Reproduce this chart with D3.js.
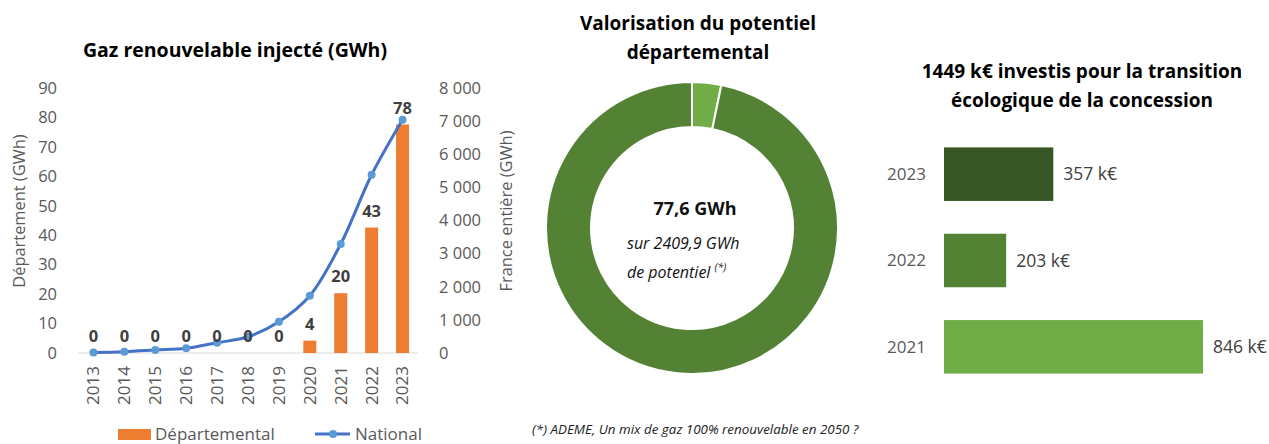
<!DOCTYPE html>
<html>
<head>
<meta charset="utf-8">
<script src="https://d3js.org/d3.v7.min.js"></script>
<style>
  body { margin: 0; background: #fff; }
  svg { display: block; font-family: "Open Sans", Lato, sans-serif; }
</style>
</head>
<body>
<script>
    // data
    var years = ["2013","2014","2015","2016","2017","2018","2019","2020","2021","2022","2023"];
    var departemental = [0, 0, 0, 0, 0, 0, 0, 4.2, 20.3, 42.6, 77.6];
    var national = [15, 40, 90, 140, 310, 490, 945, 1730, 3290, 5380, 7040];
    var leftTicks = [0,10,20,30,40,50,60,70,80,90];
    var rightTicks = [0,1000,2000,3000,4000,5000,6000,7000,8000];

    var potentielLabels = ["Valorisé", "Reste"];
    var potentielValues = [77.6, 2332.3];

    var invYears = ["2023", "2022", "2021"];
    var invValues = [357, 203, 846];
    var invColors = ["#375623", "#548235", "#70AD47"];

    var svg = d3.select("body").append("svg")
        .attr("width", 1269)
        .attr("height", 444);

    var grey = "#595959", dark = "#404040";
    var titleSize = "19px";

    // ---------- left chart : gaz injecte ----------
    var g1 = svg.append("g");

    g1.append("text")
        .attr("x", 235).attr("y", 57)
        .attr("text-anchor", "middle")
        .style("font-weight", "bold").style("font-size", "19.5px")
        .text("Gaz renouvelable injecté (GWh)");

    var x = d3.scaleBand().domain(years).range([78, 418]);
    var yL = d3.scaleLinear().domain([0, 90]).range([353, 88]);
    var yR = d3.scaleLinear().domain([0, 8000]).range([353, 88]);

    // left ticks
    g1.selectAll(".ltick").data(leftTicks).enter().append("text")
        .attr("class", "ltick")
        .attr("x", 57).attr("y", function(d){ return yL(d); })
        .attr("dy", "0.35em")
        .attr("text-anchor", "end")
        .style("font-size", "16.5px").style("fill", grey)
        .text(function(d){ return d; });

    // right ticks
    var fmtR = function(d){ return d3.format(",")(d).replace(",", "\u00a0"); };
    g1.selectAll(".rtick").data(rightTicks).enter().append("text")
        .attr("class", "rtick")
        .attr("x", 439).attr("y", function(d){ return yR(d); })
        .attr("dy", "0.35em")
        .style("font-size", "16.5px").style("fill", grey)
        .text(fmtR);

    // axis titles
    g1.append("text")
        .attr("transform", "translate(25,211) rotate(-90)")
        .attr("text-anchor", "middle")
        .style("font-size", "16.4px").style("fill", grey)
        .text("Département (GWh)");
    g1.append("text")
        .attr("transform", "translate(512,211) rotate(-90)")
        .attr("text-anchor", "middle")
        .style("font-size", "16.4px").style("fill", grey)
        .text("France entière (GWh)");

    // baseline
    g1.append("line")
        .attr("x1", 78).attr("x2", 418)
        .attr("y1", yL(0)).attr("y2", yL(0))
        .attr("stroke", "#D9D9D9").attr("stroke-width", 1);

    // x labels rotated
    g1.selectAll(".xtick").data(years).enter().append("text")
        .attr("class", "xtick")
        .attr("transform", function(d){
            return "translate(" + (x(d) + x.bandwidth()/2) + ",366) rotate(-90)";
        })
        .attr("dy", "0.35em")
        .attr("text-anchor", "end")
        .style("font-size", "17px").style("fill", grey)
        .text(function(d){ return d; });

    // bars
    var bw = x.bandwidth() * 0.42;
    g1.selectAll(".bar").data(departemental).enter().append("rect")
        .attr("class", "bar")
        .attr("x", function(d, i){ return x(years[i]) + (x.bandwidth() - bw)/2; })
        .attr("width", bw)
        .attr("y", function(d){ return yL(d); })
        .attr("height", function(d){ return yL(0) - yL(d); })
        .style("fill", "#ED7D31");

    // national line
    var line = d3.line()
        .x(function(d, i){ return x(years[i]) + x.bandwidth()/2; })
        .y(function(d){ return yR(d); })
        .curve(d3.curveCatmullRom);
    g1.append("path")
        .datum(national)
        .attr("d", line)
        .attr("fill", "none")
        .attr("stroke", "#4472C4").attr("stroke-width", 3);
    g1.selectAll(".dot").data(national).enter().append("circle")
        .attr("class", "dot")
        .attr("cx", function(d, i){ return x(years[i]) + x.bandwidth()/2; })
        .attr("cy", function(d){ return yR(d); })
        .attr("r", 4)
        .style("fill", "#5B9BD5");

    // bar value labels
    g1.selectAll(".blab").data(departemental).enter().append("text")
        .attr("class", "blab")
        .attr("x", function(d, i){ return x(years[i]) + x.bandwidth()/2; })
        .attr("y", function(d){ return yL(d) - 11; })
        .attr("text-anchor", "middle")
        .style("font-size", "16.5px").style("font-weight", "bold").style("fill", dark)
        .text(function(d){ return d3.format(".0f")(d); });

    // legend
    g1.append("rect")
        .attr("x", 118).attr("y", 429).attr("width", 33).attr("height", 11)
        .style("fill", "#ED7D31");
    g1.append("text")
        .attr("x", 155).attr("y", 440)
        .style("font-size", "17px").style("fill", grey)
        .text("Départemental");
    g1.append("line")
        .attr("x1", 315).attr("x2", 350).attr("y1", 434).attr("y2", 434)
        .attr("stroke", "#4472C4").attr("stroke-width", 3);
    g1.append("circle")
        .attr("cx", 333).attr("cy", 434).attr("r", 4)
        .style("fill", "#5B9BD5");
    g1.append("text")
        .attr("x", 355).attr("y", 440)
        .style("font-size", "17px").style("fill", grey)
        .text("National");

    // ---------- middle : donut ----------
    var g2 = svg.append("g");
    g2.append("text")
        .attr("x", 698).attr("y", 30)
        .attr("text-anchor", "middle")
        .style("font-weight", "bold").style("font-size", titleSize)
        .text("Valorisation du potentiel");
    g2.append("text")
        .attr("x", 698).attr("y", 59)
        .attr("text-anchor", "middle")
        .style("font-weight", "bold").style("font-size", titleSize)
        .text("départemental");

    var pie = d3.pie().sort(null);
    var arc = d3.arc().innerRadius(101).outerRadius(146);
    var donut = g2.append("g").attr("transform", "translate(692,228)");
    donut.selectAll("path").data(pie(potentielValues)).enter().append("path")
        .attr("d", arc)
        .style("fill", function(d, i){ return i === 0 ? "#70AD47" : "#548235"; })
        .attr("stroke", "#fff").attr("stroke-width", 2);

    g2.append("text")
        .attr("x", 695).attr("y", 215)
        .attr("text-anchor", "middle")
        .style("font-weight", "bold").style("font-size", "18px").style("fill", "#111")
        .text("77,6 GWh");
    g2.append("text")
        .attr("x", 627).attr("y", 249)
        .style("font-style", "italic").style("font-size", "16px").style("fill", "#111")
        .text("sur 2409,9 GWh");
    var t3 = g2.append("text")
        .attr("x", 627).attr("y", 278)
        .style("font-style", "italic").style("font-size", "16px").style("fill", "#111");
    t3.append("tspan").text("de potentiel ");
    t3.append("tspan").attr("dy", -7).style("font-size", "10.5px").text("(*)");

    g2.append("text")
        .attr("x", 532).attr("y", 434)
        .style("font-style", "italic").style("font-size", "13.4px").style("fill", "#222")
        .text("(*) ADEME, Un mix de gaz 100% renouvelable en 2050 ?");

    // ---------- right : investissements ----------
    var g3 = svg.append("g");
    g3.append("text")
        .attr("x", 1082).attr("y", 78)
        .attr("text-anchor", "middle")
        .style("font-weight", "bold").style("font-size", titleSize)
        .text("1449 k€ investis pour la transition");
    g3.append("text")
        .attr("x", 1082).attr("y", 107)
        .attr("text-anchor", "middle")
        .style("font-weight", "bold").style("font-size", titleSize)
        .text("écologique de la concession");

    var xi = d3.scaleLinear().domain([0, 846]).range([944, 1203]);
    var yi = d3.scaleBand().domain(invYears).range([131, 390])
        .paddingInner(0.38).paddingOuter(0.19);

    g3.selectAll(".ibar").data(invValues).enter().append("rect")
        .attr("class", "ibar")
        .attr("x", xi(0))
        .attr("y", function(d, i){ return yi(invYears[i]); })
        .attr("width", function(d){ return xi(d) - xi(0); })
        .attr("height", yi.bandwidth())
        .style("fill", function(d, i){ return invColors[i]; });

    g3.selectAll(".iyear").data(invYears).enter().append("text")
        .attr("class", "iyear")
        .attr("x", 926)
        .attr("y", function(d){ return yi(d) + yi.bandwidth()/2; })
        .attr("dy", "0.35em")
        .attr("text-anchor", "end")
        .style("font-size", "17px").style("fill", grey)
        .text(function(d){ return d; });

    g3.selectAll(".ival").data(invValues).enter().append("text")
        .attr("class", "ival")
        .attr("x", function(d){ return xi(d) + 10; })
        .attr("y", function(d, i){ return yi(invYears[i]) + yi.bandwidth()/2; })
        .attr("dy", "0.35em")
        .style("font-size", "17.5px").style("fill", dark)
        .text(function(d){ return d + " k€"; });
</script>
</body>
</html>
